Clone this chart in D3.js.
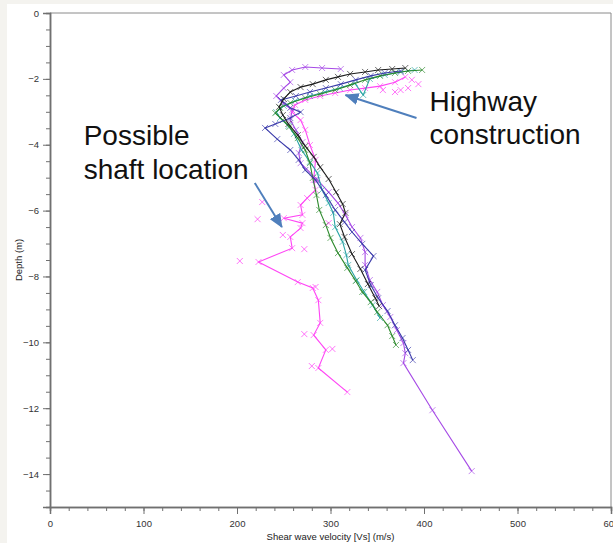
<!DOCTYPE html>
<html>
<head>
<meta charset="utf-8">
<script src="https://cdn.jsdelivr.net/npm/d3@7"></script>
<style>
body { margin: 0; background: #f4f3ef; }
svg { display: block; }
.axis text { font-family: "Liberation Sans", Arial, sans-serif; font-size: 9.5px; fill: #333; }
.axis path, .axis line { stroke: #707070; }
.note { font-family: "Liberation Sans", Arial, sans-serif; font-size: 28px; fill: #111; }
</style>
</head>
<body>
<div id="chart"></div>
<script>
// ticks
const xTicks = [0, 100, 200, 300, 400, 500, 600]
const yTicks = [0, -2, -4, -6, -8, -10, -12, -14]
const xMinor = d3.range(0, 601, 20)
const yMinor = d3.range(0, -15.01, -0.5)

// series [Vs, depth]
const blackPts = [[380,-1.67],[366,-1.70],[351,-1.73],[337,-1.79],[321,-1.85],[308,-1.94],[295,-2.03],[281,-2.16],
  [268,-2.25],[257,-2.40],[250,-2.61],[245,-2.85],[249,-3.10],[255,-3.37],[265,-3.71],[273,-4.04],[282,-4.37],
  [289,-4.68],[298,-5.04],[306,-5.44],[313,-5.80],[316,-6.07],[310,-6.41],[315,-6.80],[323,-7.32],[332,-7.77],
  [340,-8.23],[348,-8.66],[352,-8.90]]
const greenPts = [[398,-1.73],[383,-1.76],[369,-1.82],[353,-1.91],[337,-2.03],[321,-2.19],[305,-2.34],[289,-2.46],
  [273,-2.58],[257,-2.73],[246,-2.88],[241,-3.04],[249,-3.25],[256,-3.46],[265,-3.80],[273,-4.16],[278,-4.56],
  [281,-5.01],[285,-5.53],[288,-5.98],[295,-6.44],[300,-6.83],[308,-7.29],[318,-7.74],[327,-8.14],[334,-8.47],
  [343,-8.78],[350,-9.08],[361,-9.48],[366,-9.81],[370,-10.08]]
const tealPts = [[390,-1.73],[375,-1.79],[358,-1.88],[342,-2.00],[335,-2.49],[326,-2.13],[310,-2.28],[294,-2.40],
  [278,-2.52],[262,-2.67],[250,-2.82],[242,-3.01],[246,-3.19],[255,-3.43],[261,-3.67],[269,-4.16],[278,-4.52],
  [286,-4.86],[291,-5.37],[298,-5.77],[303,-6.07],[305,-6.50],[313,-6.95],[317,-7.35],[319,-7.65],[328,-8.11],
  [336,-8.47],[345,-8.87],[353,-9.26]]
const navyPts = [[375,-1.76],[358,-1.82],[343,-1.91],[327,-2.03],[311,-2.16],[295,-2.28],[278,-2.40],[263,-2.52],
  [247,-2.64],[257,-2.88],[268,-3.01],[257,-3.19],[241,-3.37],[230,-3.49],[243,-3.83],[257,-4.16],[266,-4.46],
  [273,-4.77],[284,-5.07],[295,-5.53],[305,-5.98],[315,-6.35],[323,-6.65],[334,-7.01],[346,-7.38],[337,-7.80],
  [343,-8.26],[351,-8.66],[361,-9.05],[369,-9.48],[377,-9.87],[383,-10.23],[388,-10.54]]
const purplePts = [[311,-1.70],[291,-1.67],[273,-1.64],[259,-1.73],[250,-1.88],[257,-2.10],[250,-2.28],[242,-2.52],
  [250,-2.76],[259,-2.95],[257,-3.25],[263,-3.55],[270,-3.92],[266,-4.25],[268,-4.56],[286,-5.07],[298,-5.44],
  [308,-5.77],[316,-6.13],[323,-6.50],[332,-6.83],[337,-7.26],[337,-7.65],[342,-8.11],[350,-8.47],[356,-8.87],
  [364,-9.23],[371,-9.63],[378,-10.02],[380,-10.33],[378,-10.63],[409,-12.06],[451,-13.91]]
const pinkPts = [[380,-1.94],[369,-2.10],[353,-2.22],[337,-2.28],[321,-2.34],[305,-2.43],[289,-2.52],[273,-2.64],
  [262,-2.79],[259,-3.01],[268,-3.25],[273,-3.55],[278,-4.01],[284,-4.46],[282,-5.07],[284,-5.37],[275,-5.62],
  [268,-5.83],[270,-6.13],[250,-6.23],[270,-6.38],[268,-6.53],[257,-6.80],[259,-7.14],[223,-7.56],[265,-8.17],
  [281,-8.35],[287,-8.72],[289,-9.41],[282,-9.78],[295,-10.23],[287,-10.78],[318,-11.51]]
const pinkScatter = [[227,-5.74],[222,-6.26],[249,-6.74],[272,-7.17],[203,-7.53],[272,-9.75],[280,-10.72],
  [298,-6.38],[302,-10.20],[284,-8.32],[383,-2.28],[394,-2.16],[375,-2.34],[356,-2.34],[387,-2.03],[369,-2.40]]

const seriesList = [
  { name: 'purple', pts: purplePts, color: '#a64ae6' },
  { name: 'pink', pts: pinkPts, color: '#ff45f5' },
  { name: 'teal', pts: tealPts, color: '#2aa5a5' },
  { name: 'green', pts: greenPts, color: '#2b892b' },
  { name: 'navy', pts: navyPts, color: '#3a3aaa' },
  { name: 'black', pts: blackPts, color: '#1c1c1c' }
]

// annotations [Vs, depth]
const notes = [
  { text: 'Highway', pos: [406, -2.98] },
  { text: 'construction', pos: [406, -3.98] },
  { text: 'Possible', pos: [36, -4.01] },
  { text: 'shaft location', pos: [36, -5.04] }
]
const arrows = [
  { from: [392, -3.19], to: [316, -2.49] },
  { from: [219, -5.16], to: [248, -6.50] }
]

// canvas
const width = 613
const height = 543
const margin = { top: 13, left: 50, right: 2, bottom: 36 }
const svg = d3.select('#chart').append('svg')
    .attr('width', width)
    .attr('height', height)
svg.append('rect')
    .attr('x', 7).attr('y', 4)
    .attr('width', width - 7).attr('height', height - 4)
    .attr('fill', '#fff')

const x = d3.scaleLinear().domain([0, 600]).range([margin.left, width - margin.right])
const y = d3.scaleLinear().domain([0, -15]).range([margin.top, height - margin.bottom])

svg.append('defs').append('marker')
    .attr('id', 'arrowhead')
    .attr('markerUnits', 'userSpaceOnUse')
    .attr('viewBox', '0 0 14 12')
    .attr('refX', 13).attr('refY', 6)
    .attr('markerWidth', 14).attr('markerHeight', 12)
    .attr('orient', 'auto')
    .append('path')
    .attr('d', 'M0,0L14,6L0,12Z')
    .attr('fill', '#4f7fbc')

// frame
svg.append('path')
    .attr('d', `M${x(0)},${y(0)}H${x(600)}V${y(-15)}`)
    .attr('fill', 'none')
    .attr('stroke', '#8a8a8a')

// axes
const xAxisG = svg.append('g').attr('class', 'axis')
    .attr('transform', `translate(0,${y(-15)})`)
xAxisG.call(d3.axisBottom(x).tickValues(xMinor).tickSize(4).tickFormat(''))
xAxisG.append('g').call(d3.axisBottom(x).tickValues(xTicks).tickSize(7).tickPadding(6))
const yAxisG = svg.append('g').attr('class', 'axis')
    .attr('transform', `translate(${x(0)},0)`)
yAxisG.call(d3.axisLeft(y).tickValues(yMinor).tickSize(4).tickFormat(''))
yAxisG.append('g').call(d3.axisLeft(y).tickValues(yTicks).tickSize(7).tickPadding(4))
svg.selectAll('.axis .domain').attr('stroke-width', 1.5)

svg.append('text').attr('class', 'axis')
    .attr('x', (x(0) + x(600)) / 2).attr('y', 540)
    .attr('text-anchor', 'middle')
    .style('font-family', '"Liberation Sans", Arial, sans-serif')
    .style('font-size', '9.5px').style('fill', '#222')
    .text('Shear wave velocity [Vs] (m/s)')
svg.append('text')
    .attr('transform', `translate(22,${(y(0) + y(-15)) / 2}) rotate(-90)`)
    .attr('text-anchor', 'middle')
    .style('font-family', '"Liberation Sans", Arial, sans-serif')
    .style('font-size', '9.5px').style('fill', '#222')
    .text('Depth (m)')

// series
const line = d3.line().x(d => x(d[0])).y(d => y(d[1]))
const cross = 'M-3,-3L3,3M-3,3L3,-3'
const plotG = svg.append('g')
function drawSeries(sel, s) {
    const g = sel.append('g').attr('class', s.name + '-series')
    g.append('path')
        .datum(s.pts)
        .attr('d', line)
        .attr('fill', 'none')
        .attr('stroke', s.color)
        .attr('stroke-width', 1.1)
    g.selectAll('path.mk').data(s.pts).join('path')
        .attr('class', 'mk')
        .attr('transform', d => `translate(${x(d[0])},${y(d[1])})`)
        .attr('d', cross)
        .attr('stroke', s.color)
        .attr('stroke-opacity', 0.65)
        .attr('stroke-width', 1)
}
seriesList.forEach(s => drawSeries(plotG, s))
plotG.selectAll('path.scatter').data(pinkScatter).join('path')
    .attr('class', 'scatter')
    .attr('transform', d => `translate(${x(d[0])},${y(d[1])})`)
    .attr('d', cross)
    .attr('stroke', '#ff45f5')
    .attr('stroke-opacity', 0.75)
    .attr('stroke-width', 1)

// annotations
svg.selectAll('line.arrow').data(arrows).join('line')
    .attr('class', 'arrow')
    .attr('x1', d => x(d.from[0])).attr('y1', d => y(d.from[1]))
    .attr('x2', d => x(d.to[0])).attr('y2', d => y(d.to[1]))
    .attr('stroke', '#4f7fbc')
    .attr('stroke-width', 2)
    .attr('marker-end', 'url(#arrowhead)')
svg.selectAll('text.note').data(notes).join('text')
    .attr('class', 'note')
    .attr('x', d => x(d.pos[0])).attr('y', d => y(d.pos[1]))
    .text(d => d.text)
</script>
</body>
</html>
